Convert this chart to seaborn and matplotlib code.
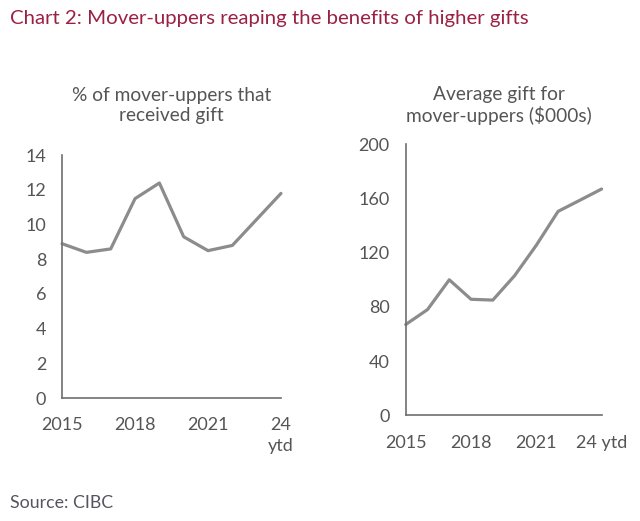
import matplotlib
matplotlib.use("Agg")
import matplotlib.pyplot as plt
import seaborn as sns
import pandas as pd

years = [2015, 2016, 2017, 2018, 2019, 2020, 2021, 2022, 2023, 2024]
pct_received = [8.9, 8.4, 8.6, 11.5, 12.4, 9.3, 8.5, 8.8, 10.3, 11.8]
avg_gift = [67, 78, 100, 85.6, 85, 103, 125.5, 150.5, 158.7, 167]
xticks = [2015, 2018, 2021, 2024]
xlabels_left = ["2015", "2018", "2021", "24\nytd"]
xlabels_right = ["2015", "2018", "2021", "24 ytd"]

sns.set_theme(style="white")
plt.rcParams['font.family'] = ['Lato', 'DejaVu Sans']

df = pd.DataFrame({"year": years, "pct": pct_received, "gift": avg_gift})

fig = plt.figure(figsize=(6.4, 5.21), dpi=100)
ax1 = fig.add_axes([0.097, 0.236, 0.342, 0.466])
ax2 = fig.add_axes([0.634, 0.203, 0.306, 0.520])

line_color = "#8c8c8c"
text_color = "#555555"
spine_color = "#6e6e6e"

sns.lineplot(data=df, x="year", y="pct", ax=ax1, color=line_color, linewidth=2.3)
sns.lineplot(data=df, x="year", y="gift", ax=ax2, color=line_color, linewidth=2.3)

for ax, ylim, yt, xl in [(ax1, 14, range(0, 15, 2), xlabels_left),
                         (ax2, 200, range(0, 201, 40), xlabels_right)]:
    ax.set_xlim(2015, 2024)
    ax.set_ylim(0, ylim)
    ax.set_yticks(list(yt))
    ax.set_xticks(xticks)
    ax.set_xticklabels(xl)
    ax.set_xlabel("")
    ax.set_ylabel("")
    for s in ["top", "right"]:
        ax.spines[s].set_visible(False)
    for s in ["left", "bottom"]:
        ax.spines[s].set_color(spine_color)
        ax.spines[s].set_linewidth(1.2)
    ax.tick_params(axis="both", direction="out", length=5, width=1.2,
                   color=spine_color, labelcolor=text_color, labelsize=13)
    ax.tick_params(axis="x", pad=9)
    ax.tick_params(axis="y", pad=6.5)
    for ln in ax.lines:
        ln.set_clip_on(False)

ax1.get_xticklabels()[-1].set_linespacing(1.35)

fig.text(0.268, 0.798, "% of mover-uppers that\nreceived gift", ha="center", va="center",
         fontsize=13.8, color=text_color, linespacing=1.2)
fig.text(0.780, 0.798, "Average gift for\nmover-uppers ($000s)", ha="center", va="center",
         fontsize=13.8, color=text_color, linespacing=1.2)

fig.text(0.016, 0.965, "Chart 2: Mover-uppers reaping the benefits of higher gifts",
         ha="left", va="center", fontsize=14.7, color="#9b2143")
fig.text(0.016, 0.035, "Source: CIBC", ha="left", va="center", fontsize=12.8, color="#555560")

fig.savefig("out.png", dpi=100)
